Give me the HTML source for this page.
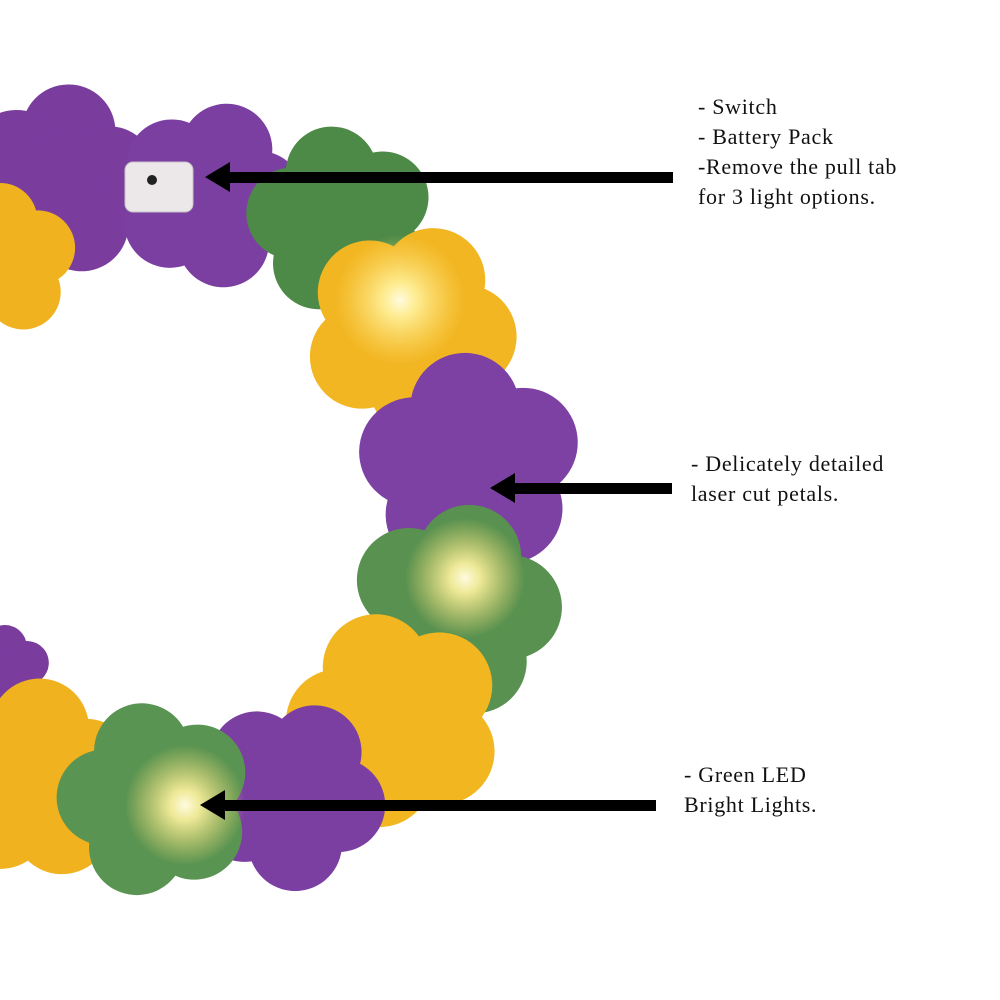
<!DOCTYPE html>
<html><head><meta charset="utf-8"><style>
html,body{margin:0;padding:0;background:#fff;}
.wrap{position:relative;width:1000px;height:1000px;overflow:hidden;}
svg{position:absolute;left:0;top:0;}
.t{position:absolute;font-family:"Liberation Serif",serif;font-size:22px;letter-spacing:0.7px;line-height:30px;color:#111;white-space:nowrap;}
</style></head><body><div class="wrap">
<svg width="1000" height="1000" viewBox="0 0 1000 1000">
<defs>
<g id="f">
<circle cx="0" cy="-0.55" r="0.52"/>
<circle cx="0" cy="-0.55" r="0.52" transform="rotate(72)"/>
<circle cx="0" cy="-0.55" r="0.52" transform="rotate(144)"/>
<circle cx="0" cy="-0.55" r="0.52" transform="rotate(216)"/>
<circle cx="0" cy="-0.55" r="0.52" transform="rotate(288)"/>
<circle cx="0" cy="0" r="0.5"/>
</g>
<radialGradient id="g"><stop offset="0" stop-color="#fffbe0"/><stop offset="0.25" stop-color="#fff3a0" stop-opacity="0.9"/><stop offset="1" stop-color="#ffe070" stop-opacity="0"/></radialGradient>
</defs>
<use href="#f" transform="translate(60,180) scale(90) rotate(10)" fill="#7a3d9e"/>
<use href="#f" transform="translate(0,260) scale(72)" fill="#f0b21f"/>
<use href="#f" transform="translate(210,195) scale(88) rotate(20)" fill="#7b3fa2"/>
<use href="#f" transform="translate(340,220) scale(88) rotate(-10)" fill="#4d8a47"/>
<use href="#f" transform="translate(410,330) scale(100) rotate(25)" fill="#f2b622"/>
<use href="#f" transform="translate(470,465) scale(105) rotate(-5)" fill="#7d40a3"/>
<use href="#f" transform="translate(455,610) scale(100) rotate(15)" fill="#589150"/>
<use href="#f" transform="translate(395,720) scale(102) rotate(-20)" fill="#f2b720"/>
<use href="#f" transform="translate(5,670) scale(42)" fill="#7a3d9e"/>
<use href="#f" transform="translate(290,795) scale(90) rotate(30)" fill="#7b3fa2"/>
<use href="#f" transform="translate(35,780) scale(95) rotate(5)" fill="#f0b21f"/>
<use href="#f" transform="translate(155,800) scale(92) rotate(-15)" fill="#5a9452"/>
<circle cx="400" cy="300" r="65" fill="url(#g)"/>
<circle cx="465" cy="578" r="60" fill="url(#g)"/>
<circle cx="185" cy="805" r="60" fill="url(#g)"/>
<rect x="125" y="162" width="68" height="50" rx="8" fill="#ece8ea" stroke="#c8c2c6"/>
<circle cx="152" cy="180" r="5" fill="#222"/>
<g fill="#000">
<rect x="225" y="172" width="448" height="11"/><polygon points="205,177 230,162 230,192"/>
<rect x="510" y="483" width="162" height="11"/><polygon points="490,488 515,473 515,503"/>
<rect x="220" y="800" width="436" height="11"/><polygon points="200,805 225,790 225,820"/>
</g>
</svg>
<div class="t" style="left:698px;top:92px;">- Switch<br>- Battery Pack<br>-Remove the pull tab<br>for 3 light options.</div>
<div class="t" style="left:691px;top:449px;">- Delicately detailed<br>laser cut petals.</div>
<div class="t" style="left:684px;top:760px;">- Green LED<br>Bright Lights.</div>
</div></body></html>
